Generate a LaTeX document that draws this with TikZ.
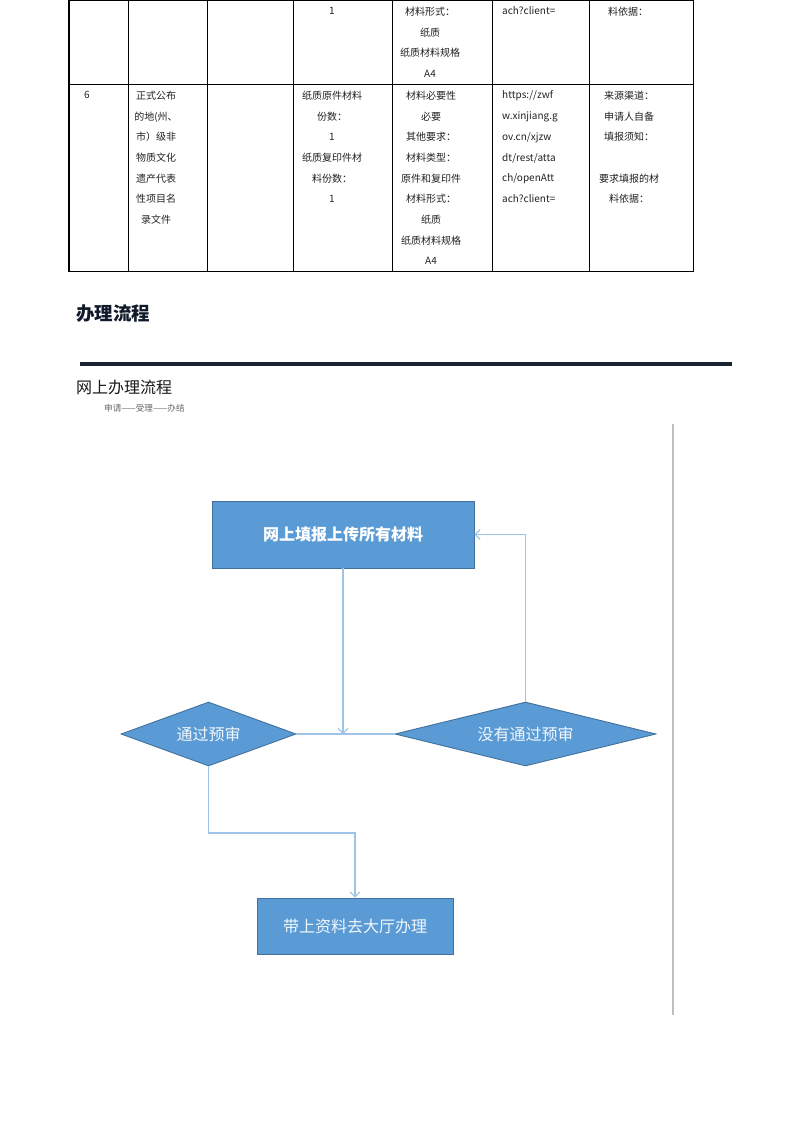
\documentclass[tikz,border=0pt]{standalone}
\usepackage{fontspec}
\setmainfont{Noto Sans CJK SC}
\usetikzlibrary{arrows.meta,shapes.geometric}
\definecolor{boxfill}{HTML}{5B9BD5}
\definecolor{boxedge}{HTML}{41719C}
\definecolor{connc}{HTML}{9DC3E6}
\definecolor{headc}{HTML}{111A2B}
\definecolor{rulec}{HTML}{1A2330}
\definecolor{tabtext}{HTML}{222222}
\begin{document}
\begin{tikzpicture}[x=1pt,y=-1pt,
  cell/.style={anchor=north, align=center, inner sep=0pt, text=tabtext, font=\fontsize{10}{20.7}\selectfont},
  tline/.style={draw=black, line width=1.2pt},
  box/.style={draw=boxedge, fill=boxfill, line width=0.9pt, text=white, rectangle, inner sep=0pt},
  dia/.style={draw=boxedge, fill=boxfill, line width=0.9pt, text=white!92!boxfill, diamond, inner sep=0pt, font=\fontsize{16}{16}\selectfont},
  conn/.style={draw=connc, line width=1.2pt},
  arr/.style={conn, -{Straight Barb[length=5pt,width=10pt,line width=1pt]}}
]
\fill[white] (0,0) rectangle (793,1122);
\useasboundingbox (0,0) rectangle (793,1122);

% ---------- table ----------
\draw[tline] (69,0.7) -- (693.5,0.7);
\draw[tline] (69,84.3) -- (693.5,84.3);
\draw[tline] (69,271.7) -- (693.5,271.7);
\foreach \cx in {69,128.5,207.5,293.5,392.5,492.5,589.5,693.5}
  \draw[tline] (\cx,0) -- (\cx,272.3);

% top row
\node[cell] (t4) at (332,6.7) {1};
\node[cell] (t5) at (430,6.7) {材料形式：\\纸质\\纸质材料规格\\A4};
\node[cell, anchor=north west, align=left] (t6) at (502,6.7) {ach?client=};
\node[cell] (t7) at (628,6.7) {料依据：};

% row 6
\node[cell] (r1) at (87,90.7) {6};
\node[cell] (r2) at (156,90.7) {正式公布\\的地(州、\\市）级非\\物质文化\\遗产代表\\性项目名\\录文件};
\node[cell] (r4) at (332,90.7) {纸质原件材料\\份数：\\1\\纸质复印件材\\料份数：\\1};
\node[cell] (r5) at (431,90.7) {材料必要性\\必要\\其他要求：\\材料类型：\\原件和复印件\\材料形式：\\纸质\\纸质材料规格\\A4};
\node[cell, anchor=north west, align=left] (r6) at (502,90.7) {https://zwf\\w.xinjiang.g\\ov.cn/xjzw\\dt/rest/atta\\ch/openAtt\\ach?client=};
\node[cell] (r7) at (629,90.7) {来源渠道：\\申请人自备\\填报须知：\\\mbox{}\\要求填报的材\\料依据：};

% ---------- headings ----------
\node[anchor=west, inner sep=0pt, text=headc, font=\fontsize{18.5}{18.5}\selectfont\bfseries] (h1) at (76,314) {办理流程};
\draw[draw=rulec, line width=3.5pt] (80,364) -- (732,364);
\node[anchor=west, inner sep=0pt, text=black!90, font=\fontsize{16}{16}\selectfont] (h2) at (76,387) {网上办理流程};
\node[anchor=west, inner sep=0pt, text=black!60, font=\fontsize{8.6}{8.6}\selectfont] (h3) at (104,408) {申请——受理——办结};
\draw[draw=black!25, line width=1.3pt] (673,424) -- (673,1015);

% ---------- flowchart ----------
\node[box, minimum width=262pt, minimum height=67pt, font=\fontsize{16}{16}\selectfont\bfseries] (b1) at (343,534.5) {网上填报上传所有材料};
\node[dia, minimum width=175pt, minimum height=64pt, aspect=2.73] (d1) at (208.5,734) {通过预审};
\node[dia, minimum width=261pt, minimum height=64pt, aspect=4.08] (d2) at (525.5,734) {没有通过预审};
\node[box, minimum width=196pt, minimum height=56pt, text=white!92!boxfill, font=\fontsize{16}{16}\selectfont] (b2) at (355,926) {带上资料去大厅办理};

\coordinate (j) at (b1.south |- d1.east);
\coordinate (e1) at (d1.south |- 0,833);
\coordinate (e2) at (b2.north |- 0,833);
\coordinate (e3) at (d2.north |- b1.east);

\draw[conn] (d1.east) -- (d2.west);
\draw[arr] (b1.south) -- (j);
\draw[arr] (d2.north) -- (e3) -- (b1.east);
\draw[arr] (d1.south) -- (e1) -- (e2) -- (b2.north);
\end{tikzpicture}
\end{document}
